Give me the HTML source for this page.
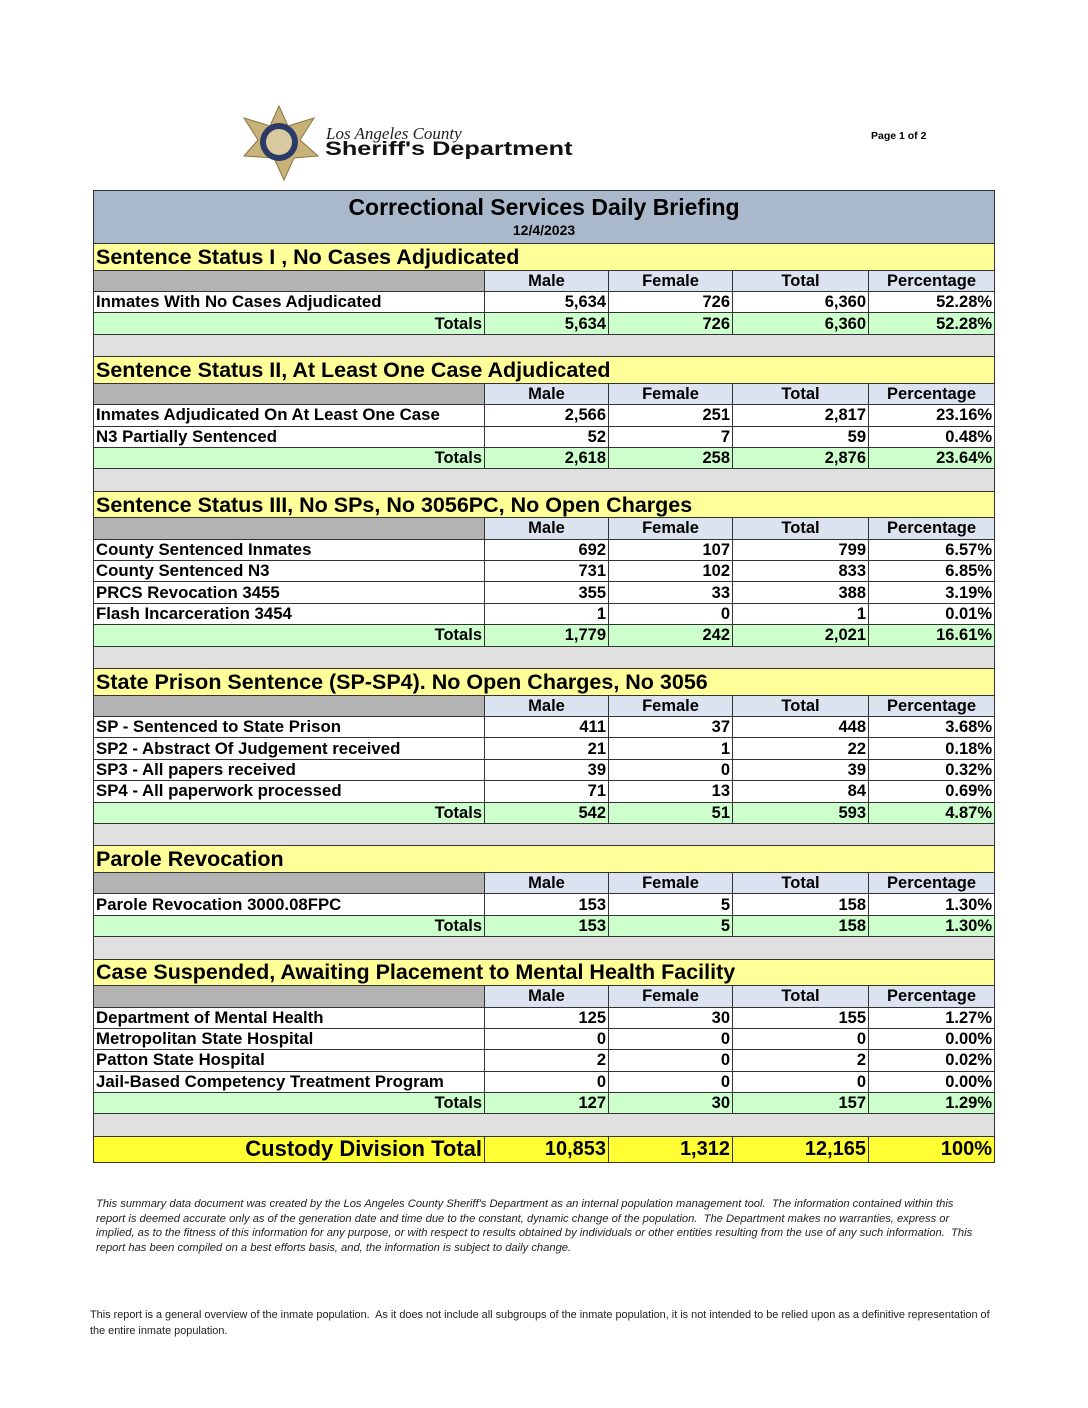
<!DOCTYPE html>
<html><head><meta charset="utf-8"><style>
body{margin:0;width:1088px;height:1408px;background:#fff;position:relative;font-family:"Liberation Sans",Arial,sans-serif;}
table{position:absolute;left:93px;top:190px;width:901px;border-collapse:collapse;table-layout:fixed;font-weight:bold;color:#000}
td{border:1px solid #333;padding:0 2px;font-size:16.5px;line-height:16px;white-space:nowrap;overflow:hidden;text-align:right;height:20.4px}
td.l{text-align:left;font-size:16.8px}
tr.h td{background:#ffff99;font-size:21.5px;text-align:left;height:25.6px}
tr.c td{background:#dce3f0;text-align:center;font-size:16.5px}
tr.c td.g{background:#b3b3b3}
tr.t td{background:#ccffcc}
tr.s td{background:#e0e0e0;height:21.4px}
tr.r td{background:#fff}
tr.k td{background:#ffff33;font-size:20px;height:25px}
.ti{background:#a9b8ca;text-align:center}
.note{position:absolute;left:96px;top:1197px;width:884px;font-style:italic;font-size:11.2px;line-height:14.5px;color:#222}
.foot{position:absolute;left:90px;top:1308px;width:905px;font-size:10.9px;line-height:15.5px;color:#222}
</style></head><body>
<svg style="position:absolute;left:234px;top:104px" width="90" height="78" viewBox="0 0 90 78">
<polygon points="45,2 54,22 80,14 66,36 84,52 60,54 50,76 40,54 10,52 24,36 10,14 36,22" fill="#c9b27a" stroke="#8a7440"/>
<circle cx="45" cy="38" r="19" fill="#2b3a66"/><circle cx="45" cy="38" r="13" fill="#d8c9a0"/>
</svg>
<div style="position:absolute;left:326px;top:124px;font-family:'Liberation Serif',serif;font-style:italic;font-size:17px;color:#222">Los Angeles County</div>
<div style="position:absolute;left:325px;top:139px;font-size:19px;font-weight:900;color:#111;transform:scaleX(1.33);transform-origin:left">Sheriff's Department</div>
<div style="position:absolute;left:871px;top:130px;font-size:10.5px;font-weight:bold">Page 1 of 2</div>
<table>
<colgroup><col style="width:391px"><col style="width:124px"><col style="width:124px"><col style="width:136px"><col style="width:126px"></colgroup>
<tr><td colspan="5" class="ti" style="height:52px;padding:0"><div style="font-size:23px;line-height:26px">Correctional Services Daily Briefing</div><div style="font-size:14px;line-height:20px">12/4/2023</div></td></tr>
<tr class="h"><td colspan="5">Sentence Status I , No Cases Adjudicated</td></tr>
<tr class="c"><td class="g"></td><td>Male</td><td>Female</td><td>Total</td><td>Percentage</td></tr>
<tr class="r"><td class="l">Inmates With No Cases Adjudicated</td><td>5,634</td><td>726</td><td>6,360</td><td>52.28%</td></tr>
<tr class="t"><td>Totals</td><td>5,634</td><td>726</td><td>6,360</td><td>52.28%</td></tr>
<tr class="s"><td colspan="5"></td></tr>
<tr class="h"><td colspan="5">Sentence Status II, At Least One Case Adjudicated</td></tr>
<tr class="c"><td class="g"></td><td>Male</td><td>Female</td><td>Total</td><td>Percentage</td></tr>
<tr class="r"><td class="l">Inmates Adjudicated On At Least One Case</td><td>2,566</td><td>251</td><td>2,817</td><td>23.16%</td></tr>
<tr class="r"><td class="l">N3 Partially Sentenced</td><td>52</td><td>7</td><td>59</td><td>0.48%</td></tr>
<tr class="t"><td>Totals</td><td>2,618</td><td>258</td><td>2,876</td><td>23.64%</td></tr>
<tr class="s"><td colspan="5"></td></tr>
<tr class="h"><td colspan="5">Sentence Status III, No SPs, No 3056PC, No Open Charges</td></tr>
<tr class="c"><td class="g"></td><td>Male</td><td>Female</td><td>Total</td><td>Percentage</td></tr>
<tr class="r"><td class="l">County Sentenced Inmates</td><td>692</td><td>107</td><td>799</td><td>6.57%</td></tr>
<tr class="r"><td class="l">County Sentenced N3</td><td>731</td><td>102</td><td>833</td><td>6.85%</td></tr>
<tr class="r"><td class="l">PRCS Revocation 3455</td><td>355</td><td>33</td><td>388</td><td>3.19%</td></tr>
<tr class="r"><td class="l">Flash Incarceration 3454</td><td>1</td><td>0</td><td>1</td><td>0.01%</td></tr>
<tr class="t"><td>Totals</td><td>1,779</td><td>242</td><td>2,021</td><td>16.61%</td></tr>
<tr class="s"><td colspan="5"></td></tr>
<tr class="h"><td colspan="5">State Prison Sentence (SP-SP4). No Open Charges, No 3056</td></tr>
<tr class="c"><td class="g"></td><td>Male</td><td>Female</td><td>Total</td><td>Percentage</td></tr>
<tr class="r"><td class="l">SP - Sentenced to State Prison</td><td>411</td><td>37</td><td>448</td><td>3.68%</td></tr>
<tr class="r"><td class="l">SP2 - Abstract Of Judgement received</td><td>21</td><td>1</td><td>22</td><td>0.18%</td></tr>
<tr class="r"><td class="l">SP3 - All papers received</td><td>39</td><td>0</td><td>39</td><td>0.32%</td></tr>
<tr class="r"><td class="l">SP4 - All paperwork processed</td><td>71</td><td>13</td><td>84</td><td>0.69%</td></tr>
<tr class="t"><td>Totals</td><td>542</td><td>51</td><td>593</td><td>4.87%</td></tr>
<tr class="s"><td colspan="5"></td></tr>
<tr class="h"><td colspan="5">Parole Revocation</td></tr>
<tr class="c"><td class="g"></td><td>Male</td><td>Female</td><td>Total</td><td>Percentage</td></tr>
<tr class="r"><td class="l">Parole Revocation 3000.08FPC</td><td>153</td><td>5</td><td>158</td><td>1.30%</td></tr>
<tr class="t"><td>Totals</td><td>153</td><td>5</td><td>158</td><td>1.30%</td></tr>
<tr class="s"><td colspan="5"></td></tr>
<tr class="h"><td colspan="5">Case Suspended, Awaiting Placement to Mental Health Facility</td></tr>
<tr class="c"><td class="g"></td><td>Male</td><td>Female</td><td>Total</td><td>Percentage</td></tr>
<tr class="r"><td class="l">Department of Mental Health</td><td>125</td><td>30</td><td>155</td><td>1.27%</td></tr>
<tr class="r"><td class="l">Metropolitan State Hospital</td><td>0</td><td>0</td><td>0</td><td>0.00%</td></tr>
<tr class="r"><td class="l">Patton State Hospital</td><td>2</td><td>0</td><td>2</td><td>0.02%</td></tr>
<tr class="r"><td class="l">Jail-Based Competency Treatment Program</td><td>0</td><td>0</td><td>0</td><td>0.00%</td></tr>
<tr class="t"><td>Totals</td><td>127</td><td>30</td><td>157</td><td>1.29%</td></tr>
<tr class="s"><td colspan="5"></td></tr>
<tr class="k"><td style="font-size:22px">Custody Division Total</td><td>10,853</td><td>1,312</td><td>12,165</td><td>100%</td></tr>
</table>
<div class="note">This summary data document was created by the Los Angeles County Sheriff's Department as an internal population management tool.&nbsp; The information contained within this report is deemed accurate only as of the generation date and time due to the constant, dynamic change of the population.&nbsp; The Department makes no warranties, express or implied, as to the fitness of this information for any purpose, or with respect to results obtained by individuals or other entities resulting from the use of any such information.&nbsp; This report has been compiled on a best efforts basis, and, the information is subject to daily change.</div>
<div class="foot">This report is a general overview of the inmate population.&nbsp; As it does not include all subgroups of the inmate population, it is not intended to be relied upon as a definitive representation of the entire inmate population.</div>
</body></html>
